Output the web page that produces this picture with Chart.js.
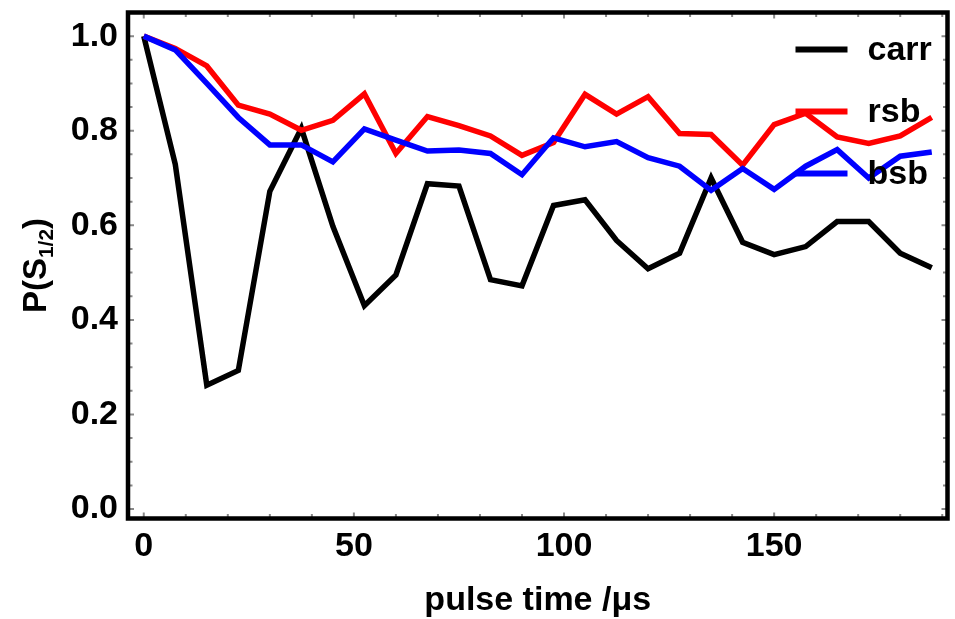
<!DOCTYPE html>
<html>
<head>
<meta charset="utf-8">
<title>P(S1/2) vs pulse time</title>
<script src="https://cdn.jsdelivr.net/npm/chart.js@4"></script>
<style>
  html, body { margin: 0; padding: 0; background: #fff; }
  #wrap { width: 955px; height: 619px; }
</style>
</head>
<body>
<div id="wrap"><canvas id="chart" width="955" height="619"></canvas></div>
<script>
// pulse times (µs) and measured populations for each transition
const pulseTime = [0, 7.5, 15, 22.5, 30, 37.5, 45, 52.5, 60, 67.5, 75, 82.5, 90,
  97.5, 105, 112.5, 120, 127.5, 135, 142.5, 150, 157.5, 165, 172.5, 180, 187.5];
const carr = [1.0, 0.729, 0.262, 0.293, 0.672, 0.805, 0.598, 0.43, 0.495, 0.688, 0.683, 0.485, 0.472,
  0.642, 0.654, 0.568, 0.508, 0.541, 0.70, 0.564, 0.538, 0.555, 0.608, 0.608, 0.541, 0.510];
const rsb = [1.0, 0.974, 0.937, 0.854, 0.835, 0.801, 0.822, 0.878, 0.752, 0.830, 0.811, 0.789, 0.748,
  0.775, 0.877, 0.835, 0.872, 0.794, 0.792, 0.727, 0.813, 0.837, 0.787, 0.773, 0.789, 0.828];
const bsb = [1.0, 0.971, 0.900, 0.828, 0.770, 0.770, 0.734, 0.804, 0.780, 0.757, 0.759, 0.752, 0.707,
  0.785, 0.766, 0.777, 0.743, 0.725, 0.674, 0.720, 0.676, 0.725, 0.760, 0.700, 0.746, 0.755];

const xTicks = [0, 50, 100, 150];
const yTicks = [0, 0.2, 0.4, 0.6, 0.8, 1.0];

const FONT = '"Liberation Sans", Arial, sans-serif';

function series(values) {
  return pulseTime.map((t, i) => ({ x: t, y: values[i] }));
}

// frame + inward tick marks on all four sides
const framePlugin = {
  id: 'frame',
  afterDatasetsDraw(chart) {
    const { ctx, chartArea: a, scales: { x, y } } = chart;
    ctx.save();
    ctx.strokeStyle = '#888';
    ctx.lineWidth = 2;
    ctx.beginPath();
    for (let v = 0; v <= 190; v += 10) {
      const px = x.getPixelForValue(v);
      const len = v % 50 === 0 ? 6 : 4.5;
      ctx.moveTo(px, a.bottom); ctx.lineTo(px, a.bottom - len);
      ctx.moveTo(px, a.top); ctx.lineTo(px, a.top + len);
    }
    for (let k = 0; k <= 20; k++) {
      const v = k * 0.05;
      const py = y.getPixelForValue(v);
      const len = k % 4 === 0 ? 6 : 4.5;
      ctx.moveTo(a.left, py); ctx.lineTo(a.left + len, py);
      ctx.moveTo(a.right, py); ctx.lineTo(a.right - len, py);
    }
    ctx.stroke();

    ctx.strokeStyle = '#000';
    ctx.lineWidth = 4.5;
    ctx.strokeRect(a.left, a.top, a.right - a.left, a.bottom - a.top);

    // legend in the upper right corner
    ctx.font = 'bold 34px ' + FONT;
    ctx.textAlign = 'left';
    ctx.textBaseline = 'alphabetic';
    chart.data.datasets.forEach((ds, i) => {
      const ly = a.top + 37 + i * 62;
      ctx.strokeStyle = ds.borderColor;
      ctx.lineWidth = 6;
      ctx.beginPath();
      ctx.moveTo(a.right - 152, ly);
      ctx.lineTo(a.right - 100, ly);
      ctx.stroke();
      ctx.fillStyle = '#000';
      ctx.fillText(ds.label, a.right - 80, ly + 10);
    });
    ctx.restore();
  },
  afterDraw(chart) {
    // rotated y-axis title with subscript
    const { ctx, chartArea: a } = chart;
    const main = 'bold 33px ' + FONT;
    const sub = 'bold 21px ' + FONT;
    ctx.save();
    ctx.translate(34, (a.top + a.bottom) / 2);
    ctx.rotate(-Math.PI / 2);
    ctx.fillStyle = '#000';
    ctx.textBaseline = 'alphabetic';
    ctx.textAlign = 'left';
    const parts = [['P(S', main, 0], ['1/2', sub, 7], [')', main, 0]];
    let total = 0;
    parts.forEach(p => { ctx.font = p[1]; total += ctx.measureText(p[0]).width; });
    let cx = -total / 2;
    parts.forEach(p => {
      ctx.font = p[1];
      ctx.fillText(p[0], cx, 11.5 + p[2]);
      cx += ctx.measureText(p[0]).width;
    });
    ctx.restore();
  }
};

new Chart(document.getElementById('chart'), {
  type: 'line',
  data: {
    datasets: [
      { label: 'carr', data: series(carr), borderColor: '#000000', order: 2 },
      { label: 'rsb', data: series(rsb), borderColor: '#ff0000', order: 1 },
      { label: 'bsb', data: series(bsb), borderColor: '#0000ff', order: 0 }
    ]
  },
  options: {
    responsive: false,
    animation: false,
    layout: { padding: { top: 12.5, right: 7.5, left: 0, bottom: 0 } },
    elements: {
      line: { borderWidth: 5.5, tension: 0, fill: false },
      point: { radius: 0, hoverRadius: 0 }
    },
    plugins: { legend: { display: false }, tooltip: { enabled: false } },
    scales: {
      x: {
        type: 'linear',
        min: -3.75,
        max: 191.25,
        afterBuildTicks: s => { s.ticks = xTicks.map(v => ({ value: v })); },
        afterFit: s => { s.height = 100.5; s.paddingLeft = 0; s.paddingRight = 0; },
        grid: { display: false, drawTicks: false },
        border: { display: false },
        ticks: {
          color: '#000',
          padding: 8,
          maxRotation: 0,
          font: { family: FONT, size: 34, weight: 'bold' },
          callback: v => String(v)
        },
        title: {
          display: true,
          text: 'pulse time /μs',
          color: '#000',
          padding: { top: 0, bottom: 1 },
          font: { family: FONT, size: 34, weight: 'bold', lineHeight: 1 }
        }
      },
      y: {
        min: -0.02,
        max: 1.05,
        afterBuildTicks: s => { s.ticks = yTicks.map(v => ({ value: v })); },
        afterFit: s => { s.width = 128; s.paddingTop = 0; s.paddingBottom = 0; },
        grid: { display: false, drawTicks: false },
        border: { display: false },
        ticks: {
          color: '#000',
          padding: 10,
          font: { family: FONT, size: 34, weight: 'bold' },
          callback: v => v.toFixed(1)
        }
      }
    }
  },
  plugins: [framePlugin]
});
</script>
</body>
</html>
